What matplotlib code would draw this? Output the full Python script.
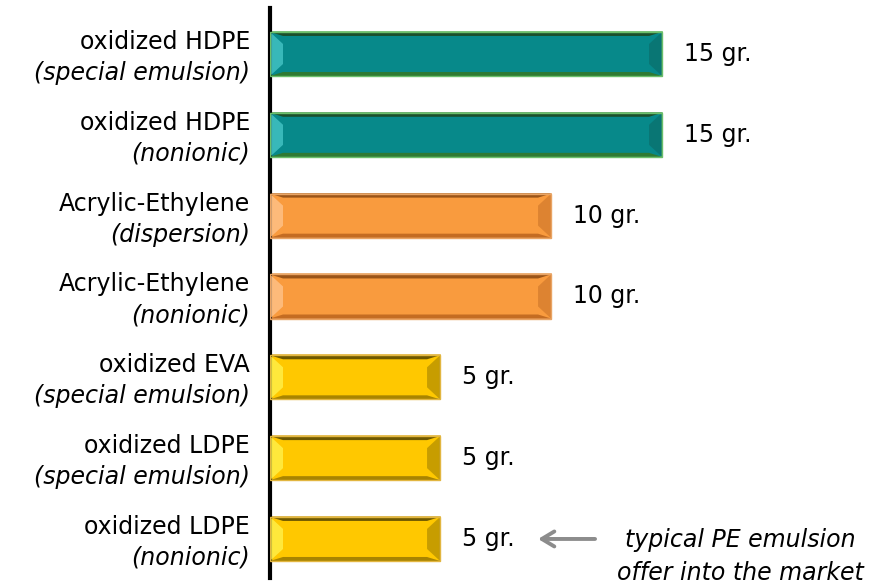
import numpy as np
import matplotlib.pyplot as plt
from matplotlib.patches import Polygon
from matplotlib import transforms

plt.rcParams['font.family'] = ['DejaVu Sans']

# emulsion types, top to bottom
names = ['oxidized HDPE', 'oxidized HDPE', 'Acrylic-Ethylene', 'Acrylic-Ethylene',
         'oxidized EVA', 'oxidized LDPE', 'oxidized LDPE']
kinds = ['(special emulsion)', '(nonionic)', '(dispersion)', '(nonionic)',
         '(special emulsion)', '(special emulsion)', '(nonionic)']
grams = [15, 15, 10, 10, 5, 5, 5]
value_labels = ['15 gr.', '15 gr.', '10 gr.', '10 gr.', '5 gr.', '5 gr.', '5 gr.']
note = ['typical PE emulsion', 'offer into the market']

# face, top bevel, bottom bevel, left bevel, right bevel, outline
palettes = {
    15: ['#07898A', '#1B4F2C', '#2F7A33', '#45C4C6', '#0B6E6C', '#6BBF6B'],
    10: ['#F99B3E', '#9A5418', '#C46C22', '#FFC38A', '#D27A2C', '#E9A464'],
    5:  ['#FFC800', '#6E5800', '#A88400', '#FFF14A', '#B08C00', '#E2B640'],
}

fig = plt.figure(figsize=(8.81, 5.85), dpi=100)
ax = fig.add_axes([270 / 881, 7 / 585, 611 / 881, 570 / 585])

base = -2.66
ax.set_xlim(base, base + 611 / 22.2)
ax.set_ylim(6.483, -0.569)

y = np.arange(len(grams))
h = 0.545
widths = np.array(grams) - base
bars = ax.barh(y, widths, left=base, height=h, color='none', edgecolor='none')

# pixel -> data sizes
dx = (ax.get_xlim()[1] - ax.get_xlim()[0]) / 611
dy = (ax.get_ylim()[0] - ax.get_ylim()[1]) / 570

for b, g in zip(bars, grams):
    face, top, bot, lft, rgt, edge = palettes[g]
    x0, yt = b.get_x(), b.get_y()
    x1, yb = x0 + b.get_width(), yt + b.get_height()
    t, s = 4 * dy, 13 * dx
    ax.add_patch(Polygon([(x0, yt), (x1, yt), (x1, yb), (x0, yb)],
                         closed=True, fc=face, ec=edge, lw=1.2, zorder=2))
    ax.add_patch(Polygon([(x0, yt), (x1, yt), (x1 - s, yt + t), (x0 + s, yt + t)],
                         closed=True, fc=top, ec='none', zorder=3))
    ax.add_patch(Polygon([(x0, yb), (x1, yb), (x1 - s, yb - t), (x0 + s, yb - t)],
                         closed=True, fc=bot, ec='none', zorder=3))
    ax.add_patch(Polygon([(x0, yt), (x0 + s, yt + 3 * t), (x0 + s, yb - 3 * t), (x0, yb)],
                         closed=True, fc=lft, ec='none', zorder=3, alpha=0.8))
    ax.add_patch(Polygon([(x1, yt), (x1 - s, yt + 3 * t), (x1 - s, yb - 3 * t), (x1, yb)],
                         closed=True, fc=rgt, ec='none', zorder=3, alpha=0.7))
    ax.add_patch(Polygon([(x0, yt), (x1, yt), (x1, yb), (x0, yb)],
                         closed=True, fc='none', ec=edge, lw=1.0, zorder=4))

# category labels left of the axis line
lab = transforms.blended_transform_factory(ax.transAxes, ax.transData)
for yi, n, k in zip(y, names, kinds):
    ax.annotate(n, xy=(0, yi), xycoords=lab, xytext=(-20, 12), textcoords='offset pixels',
                ha='right', va='center', fontsize=17, color='black')
    ax.annotate(k, xy=(0, yi), xycoords=lab, xytext=(-20, -19), textcoords='offset pixels',
                ha='right', va='center', fontsize=17, style='italic', color='black')

# value labels
for yi, v, t in zip(y, grams, value_labels):
    ax.annotate(t, xy=(v, yi), xytext=(22, 0), textcoords='offset pixels',
                ha='left', va='center', fontsize=17, color='black')

# arrow and note for the last bar
v, yl = grams[-1], y[-1]
ax.annotate('', xy=(v + 98 * dx, yl), xytext=(v + 155 * dx, yl),
            arrowprops=dict(arrowstyle='->,head_length=0.5,head_width=0.3',
                            color='#8C8C8C', lw=2.8,
                            mutation_scale=18, shrinkA=0, shrinkB=0))
ax.annotate(note[0], xy=(v, yl), xytext=(300, -1), textcoords='offset pixels',
            ha='center', va='center', fontsize=17, style='italic', color='black')
ax.annotate(note[1], xy=(v, yl), xytext=(300, -34), textcoords='offset pixels',
            ha='center', va='center', fontsize=17, style='italic', color='black',
            annotation_clip=False)

for sp in ['top', 'right', 'bottom']:
    ax.spines[sp].set_visible(False)
ax.spines['left'].set_linewidth(3)
ax.spines['left'].set_color('black')
ax.set_xticks([])
ax.set_yticks([])
ax.patch.set_alpha(0)

fig.savefig('out.png', dpi=100)
